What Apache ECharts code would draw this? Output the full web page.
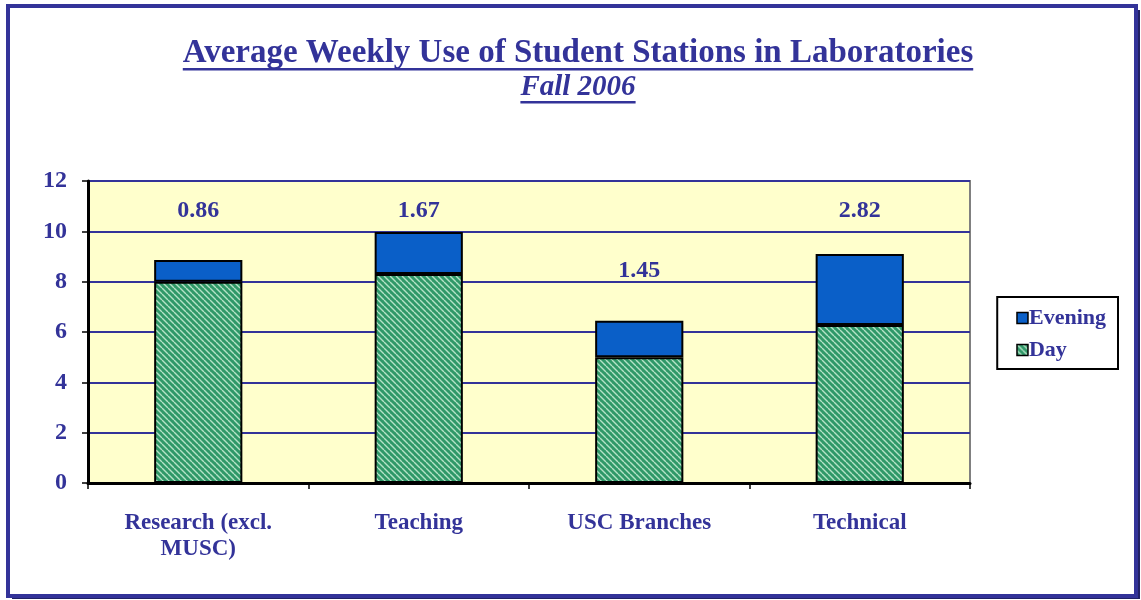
<!DOCTYPE html>
<html><head><meta charset="utf-8">
<script src="https://cdn.jsdelivr.net/npm/echarts@6/dist/echarts.min.js"></script>
<style>html,body{margin:0;padding:0;background:#fff}#c{width:1141px;height:600px}</style>
</head><body><div id="c"></div>
<script>
const categories = ['Research (excl.\nMUSC)', 'Teaching', 'USC Branches', 'Technical'];
const dayValues = [8.0, 8.30, 5.0, 6.28];
const eveningValues = [0.86, 1.67, 1.45, 2.82];
const yTicks = [0, 2, 4, 6, 8, 10, 12];
const titleText = 'Average Weekly Use of Student Stations in Laboratories';
const subText = 'Fall 2006';

const BLUE = '#333399';
const FONT = '"Liberation Serif", "Times New Roman", serif';

// diagonal hatch pattern for Day
const pc = document.createElement('canvas');
pc.width = 6; pc.height = 6;
const g = pc.getContext('2d');
g.fillStyle = '#2f9868'; g.fillRect(0, 0, 6, 6);
g.strokeStyle = '#b4e2c6'; g.lineWidth = 1.4;
for (let k = -6; k <= 12; k += 6) {
  g.beginPath(); g.moveTo(k, 0); g.lineTo(k + 6, 6); g.stroke();
}
const dayPattern = { image: pc, repeat: 'repeat' };

// label offsets (pixels relative to default 'top' position)
const labelOffsets = [-32, -4, -33, -26];

function measure(text, font) {
  const c = document.createElement('canvas').getContext('2d');
  c.font = font; return c.measureText(text).width;
}
const tFont = 'bold 33px ' + FONT;
const sFont = 'italic bold 29px ' + FONT;
const tW = measure(titleText, tFont);
const sW = measure(subText, sFont);
const cx = 578;

const chart = echarts.init(document.getElementById('c'));
chart.setOption({
  animation: false,
  backgroundColor: '#fff',
  grid: { left: 88, right: 171, top: 181, bottom: 117, show: true, backgroundColor: '#FFFFCC', borderColor: '#808080', borderWidth: 2 },
  legend: {
    right: 23, top: 297, orient: 'vertical', itemGap: 10,
    padding: [10, 12, 8, 19],
    borderColor: '#000', borderWidth: 2, backgroundColor: '#fff',
    itemWidth: 11, itemHeight: 11, icon: 'rect',
    textStyle: { fontFamily: FONT, fontWeight: 'bold', fontSize: 22, color: BLUE, padding: [0, 0, 0, -4] },
    data: [
      { name: 'Evening', itemStyle: { color: '#0A5FC8', borderColor: '#000', borderWidth: 1.5 } },
      { name: 'Day', itemStyle: { color: dayPattern, borderColor: '#000', borderWidth: 1.5 } }
    ]
  },
  xAxis: {
    type: 'category', data: categories,
    axisLine: { lineStyle: { color: '#000', width: 3 } },
    axisTick: { show: true, alignWithLabel: false, length: 6, lineStyle: { color: '#000', width: 1.5 } },
    axisLabel: { fontFamily: FONT, fontWeight: 'bold', fontSize: 23, color: BLUE, margin: 27, lineHeight: 26, interval: 0 }
  },
  yAxis: {
    type: 'value', min: 0, max: 12, interval: 2,
    axisLine: { show: true, lineStyle: { color: '#000', width: 3 } },
    axisTick: { show: true, length: 6, lineStyle: { color: '#000', width: 1.5 } },
    splitLine: { lineStyle: { color: BLUE, width: 2 } },
    axisLabel: { fontFamily: FONT, fontWeight: 'bold', fontSize: 24, color: BLUE, margin: 21,
      formatter: v => yTicks.includes(v) ? String(v) : '' }
  },
  series: [
    { name: 'Day', type: 'bar', stack: 's', barWidth: '40%', data: dayValues,
      itemStyle: { color: dayPattern, borderColor: '#000', borderWidth: 2 } },
    { name: 'Evening', type: 'bar', stack: 's', barWidth: '40%',
      data: eveningValues.map((v, i) => ({ value: v, label: { offset: [0, labelOffsets[i]] } })),
      itemStyle: { color: '#0A5FC8', borderColor: '#000', borderWidth: 2 },
      label: { show: true, position: 'top', fontFamily: FONT, fontWeight: 'bold', fontSize: 24, color: BLUE,
        formatter: p => p.value.toFixed(2) } }
  ],
  graphic: [
    { type: 'rect', shape: { x: 8, y: 6, width: 1128, height: 590 }, style: { fill: 'none', stroke: BLUE, lineWidth: 4 },
      z: 100 },
    { type: 'rect', shape: { x: 12, y: 596, width: 1128, height: 3 }, style: { fill: '#222266' }, z: 99 },
    { type: 'rect', shape: { x: 1137, y: 10, width: 3, height: 589 }, style: { fill: '#222266' }, z: 99 },
    { type: 'text', x: cx, y: 53, style: { text: titleText, font: tFont, fill: BLUE, align: 'center', verticalAlign: 'middle' } },
    { type: 'rect', shape: { x: cx - tW / 2, y: 68, width: tW, height: 2.5 }, style: { fill: BLUE } },
    { type: 'text', x: cx, y: 88, style: { text: subText, font: sFont, fill: BLUE, align: 'center', verticalAlign: 'middle' } },
    { type: 'rect', shape: { x: cx - sW / 2, y: 101, width: sW, height: 2.5 }, style: { fill: BLUE } }
  ]
});
</script></body></html>
